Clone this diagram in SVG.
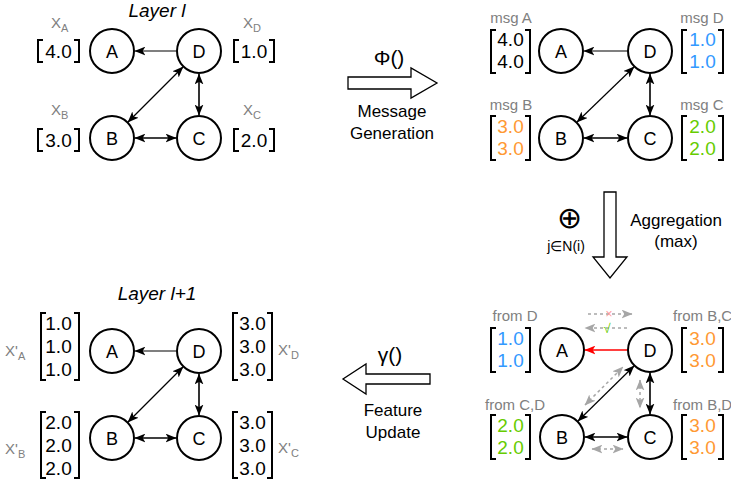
<svg xmlns="http://www.w3.org/2000/svg" width="731" height="487" viewBox="0 0 731 487">
<style>
text{font-family:"Liberation Sans",Arial,sans-serif}
.node circle{fill:#fff;stroke:#000;stroke-width:2}
.node text{font-size:18px;text-anchor:middle;fill:#000}
.num{font-size:19px;text-anchor:middle}
.lbl{font-size:15px;fill:#808080}
.xl{font-size:15px;fill:#808080}
.sub{font-size:11px;fill:#808080}
.br{fill:none;stroke:#000;stroke-width:2}
.e{stroke:#000;stroke-width:1.2;fill:none}
.e2{stroke:#000;stroke-width:1.6;fill:none}
.dash{stroke:#a6a6a6;stroke-width:1.5;stroke-dasharray:3 3;fill:none}
.blk{fill:#fff;stroke:#000;stroke-width:1.3}
.cap{font-size:17px;text-anchor:middle}
.op{font-size:21px;text-anchor:middle}
.title{font-size:19px;font-style:italic;text-anchor:middle}
.blue{fill:#3399ff}.orange{fill:#ff9933}.green{fill:#66cc00}
</style>
<defs>
<marker id="ah" markerUnits="userSpaceOnUse" viewBox="0 0 10 8" refX="9.5" refY="4" markerWidth="11" markerHeight="9" orient="auto-start-reverse"><path d="M0,0 L10,4 L0,8 L2.5,4 z" fill="#000"/></marker>
<marker id="ahr" markerUnits="userSpaceOnUse" viewBox="0 0 10 8" refX="9.5" refY="4" markerWidth="11" markerHeight="9" orient="auto-start-reverse"><path d="M0,0 L10,4 L0,8 L2.5,4 z" fill="#ff0000"/></marker>
<marker id="ahg" markerUnits="userSpaceOnUse" viewBox="0 0 10 8" refX="9.5" refY="4" markerWidth="11" markerHeight="9" orient="auto-start-reverse"><path d="M0,0 L10,4 L0,8 L2.5,4 z" fill="#a6a6a6"/></marker>
</defs>

<!-- Titles -->
<text class="title" x="157" y="17">Layer l</text>
<text class="title" x="157" y="300">Layer l+1</text>

<!-- Top-left graph -->
<g id="tl-nodes">
<g class="node" id="tl-A"><circle cx="112" cy="51" r="22"/><text x="112" y="58">A</text></g>
<g class="node" id="tl-D"><circle cx="199" cy="51" r="22"/><text x="199" y="58">D</text></g>
<g class="node" id="tl-B"><circle cx="112" cy="138" r="22"/><text x="112" y="145">B</text></g>
<g class="node" id="tl-C"><circle cx="199" cy="138" r="22"/><text x="199" y="145">C</text></g>
</g>
<g id="tl-edges">
<line class="e" x1="176" y1="51" x2="135" y2="51" marker-end="url(#ah)"/>
<line class="e" x1="128" y1="122" x2="183" y2="67" marker-start="url(#ah)" marker-end="url(#ah)"/>
<line class="e2" x1="199" y1="74" x2="199" y2="115" marker-start="url(#ah)" marker-end="url(#ah)"/>
<line class="e2" x1="135" y1="138" x2="176" y2="138" marker-start="url(#ah)" marker-end="url(#ah)"/>
</g>
<g id="tl-feat">
<text class="xl" x="51" y="28">X<tspan class="sub" dy="4">A</tspan></text>
<path class="br" d="M43,40 H38 V62 H43 M74,40 H79 V62 H74"/>
<text class="num" x="58.5" y="58">4.0</text>
<text class="xl" x="243" y="28">X<tspan class="sub" dy="4">D</tspan></text>
<path class="br" d="M239,40 H234 V62 H239 M269,40 H274 V62 H269"/>
<text class="num" x="254" y="58">1.0</text>
<text class="xl" x="51" y="115">X<tspan class="sub" dy="4">B</tspan></text>
<path class="br" d="M43,129 H38 V151 H43 M74,129 H79 V151 H74"/>
<text class="num" x="58.5" y="147">3.0</text>
<text class="xl" x="243" y="115">X<tspan class="sub" dy="4">C</tspan></text>
<path class="br" d="M239,129 H234 V151 H239 M269,129 H274 V151 H269"/>
<text class="num" x="254" y="147">2.0</text>
</g>

<!-- Top-right graph -->
<g id="tr-nodes">
<g class="node" id="tr-A"><circle cx="561" cy="51" r="22"/><text x="561" y="58">A</text></g>
<g class="node" id="tr-D"><circle cx="650" cy="51" r="22"/><text x="650" y="58">D</text></g>
<g class="node" id="tr-B"><circle cx="561" cy="138" r="22"/><text x="561" y="145">B</text></g>
<g class="node" id="tr-C"><circle cx="650" cy="138" r="22"/><text x="650" y="145">C</text></g>
</g>
<g id="tr-edges">
<line class="e" x1="627" y1="51" x2="584" y2="51" marker-end="url(#ah)"/>
<line class="e" x1="577" y1="122" x2="634" y2="67" marker-start="url(#ah)" marker-end="url(#ah)"/>
<line class="e2" x1="650" y1="74" x2="650" y2="115" marker-start="url(#ah)" marker-end="url(#ah)"/>
<line class="e2" x1="584" y1="138" x2="627" y2="138" marker-start="url(#ah)" marker-end="url(#ah)"/>
</g>
<g id="tr-msg">
<text class="lbl" x="511" y="23" text-anchor="middle">msg A</text>
<path class="br" d="M496,30 H491 V73 H496 M525,30 H530 V73 H525"/>
<text class="num" x="510.5" y="46">4.0</text>
<text class="num" x="510.5" y="68">4.0</text>
<text class="lbl" x="702" y="23" text-anchor="middle">msg D</text>
<path class="br" d="M687,30 H682 V73 H687 M718,30 H723 V73 H718"/>
<text class="num blue" x="702.5" y="46">1.0</text>
<text class="num blue" x="702.5" y="68">1.0</text>
<text class="lbl" x="511" y="110" text-anchor="middle">msg B</text>
<path class="br" d="M496,116 H491 V160 H496 M525,116 H530 V160 H525"/>
<text class="num orange" x="510.5" y="133">3.0</text>
<text class="num orange" x="510.5" y="155">3.0</text>
<text class="lbl" x="702" y="110" text-anchor="middle">msg C</text>
<path class="br" d="M687,116 H682 V160 H687 M718,116 H723 V160 H718"/>
<text class="num green" x="702.5" y="133">2.0</text>
<text class="num green" x="702.5" y="155">2.0</text>
</g>

<!-- Bottom-right graph -->
<g id="br-nodes">
<g class="node" id="br-A"><circle cx="562" cy="350" r="22"/><text x="562" y="357">A</text></g>
<g class="node" id="br-D"><circle cx="650" cy="350" r="22"/><text x="650" y="357">D</text></g>
<g class="node" id="br-B"><circle cx="562" cy="437" r="22"/><text x="562" y="444">B</text></g>
<g class="node" id="br-C"><circle cx="650" cy="437" r="22"/><text x="650" y="444">C</text></g>
</g>
<g id="br-edges">
<line x1="627" y1="350" x2="585" y2="350" stroke="#ff0000" stroke-width="1.4" marker-end="url(#ahr)"/>
<line class="e" x1="578" y1="421" x2="634" y2="366" marker-start="url(#ah)" marker-end="url(#ah)"/>
<line class="e2" x1="650" y1="373" x2="650" y2="414" marker-start="url(#ah)" marker-end="url(#ah)"/>
<line class="e2" x1="585" y1="437" x2="627" y2="437" marker-start="url(#ah)" marker-end="url(#ah)"/>
<line class="dash" x1="588" y1="314" x2="632" y2="314" marker-end="url(#ahg)"/>
<line class="dash" x1="627" y1="328" x2="585" y2="328" marker-end="url(#ahg)"/>
<line class="dash" x1="585" y1="405" x2="623" y2="367" marker-start="url(#ahg)" marker-end="url(#ahg)"/>
<line class="dash" x1="640" y1="380" x2="640" y2="408" marker-start="url(#ahg)" marker-end="url(#ahg)"/>
<line class="dash" x1="592" y1="449" x2="623" y2="449" marker-start="url(#ahg)" marker-end="url(#ahg)"/>
<text x="609" y="318" font-size="12" fill="#ff9999" text-anchor="middle">×</text>
<text x="607" y="333" font-size="13" fill="#66cc00" text-anchor="middle">√</text>
</g>
<g id="br-agg">
<text class="lbl" x="515" y="321" text-anchor="middle">from D</text>
<path class="br" d="M496,328 H491 V372 H496 M525,328 H530 V372 H525"/>
<text class="num blue" x="510.5" y="345">1.0</text>
<text class="num blue" x="510.5" y="367">1.0</text>
<text class="lbl" x="673" y="321">from B,C</text>
<path class="br" d="M687,328 H682 V372 H687 M718,328 H723 V372 H718"/>
<text class="num orange" x="702.5" y="345">3.0</text>
<text class="num orange" x="702.5" y="367">3.0</text>
<text class="lbl" x="515" y="410" text-anchor="middle">from C,D</text>
<path class="br" d="M496,415 H491 V459 H496 M525,415 H530 V459 H525"/>
<text class="num green" x="510.5" y="432">2.0</text>
<text class="num green" x="510.5" y="454">2.0</text>
<text class="lbl" x="673" y="410">from B,D</text>
<path class="br" d="M687,415 H682 V459 H687 M718,415 H723 V459 H718"/>
<text class="num orange" x="702.5" y="432">3.0</text>
<text class="num orange" x="702.5" y="454">3.0</text>
</g>

<!-- Bottom-left graph -->
<g id="bl-nodes">
<g class="node" id="bl-A"><circle cx="112" cy="351" r="22"/><text x="112" y="358">A</text></g>
<g class="node" id="bl-D"><circle cx="199" cy="351" r="22"/><text x="199" y="358">D</text></g>
<g class="node" id="bl-B"><circle cx="112" cy="438" r="22"/><text x="112" y="445">B</text></g>
<g class="node" id="bl-C"><circle cx="199" cy="438" r="22"/><text x="199" y="445">C</text></g>
</g>
<g id="bl-edges">
<line class="e" x1="176" y1="351" x2="135" y2="351" marker-end="url(#ah)"/>
<line class="e" x1="128" y1="422" x2="183" y2="367" marker-start="url(#ah)" marker-end="url(#ah)"/>
<line class="e2" x1="199" y1="374" x2="199" y2="415" marker-start="url(#ah)" marker-end="url(#ah)"/>
<line class="e2" x1="135" y1="438" x2="176" y2="438" marker-start="url(#ah)" marker-end="url(#ah)"/>
</g>
<g id="bl-feat">
<text class="xl" x="5" y="356">X'<tspan class="sub" dy="4">A</tspan></text>
<path class="br" d="M46,313 H41 V380 H46 M74,313 H79 V380 H74"/>
<text class="num" x="58.5" y="330">1.0</text>
<text class="num" x="58.5" y="353">1.0</text>
<text class="num" x="58.5" y="376">1.0</text>
<text class="xl" x="278" y="355">X'<tspan class="sub" dy="4">D</tspan></text>
<path class="br" d="M238,313 H233 V380 H238 M267,313 H272 V380 H267"/>
<text class="num" x="252.5" y="330">3.0</text>
<text class="num" x="252.5" y="353">3.0</text>
<text class="num" x="252.5" y="376">3.0</text>
<text class="xl" x="5" y="454">X'<tspan class="sub" dy="4">B</tspan></text>
<path class="br" d="M46,412 H41 V478 H46 M74,412 H79 V478 H74"/>
<text class="num" x="58.5" y="429">2.0</text>
<text class="num" x="58.5" y="452">2.0</text>
<text class="num" x="58.5" y="475">2.0</text>
<text class="xl" x="278" y="453">X'<tspan class="sub" dy="4">C</tspan></text>
<path class="br" d="M238,412 H233 V478 H238 M267,412 H272 V478 H267"/>
<text class="num" x="252.5" y="429">3.0</text>
<text class="num" x="252.5" y="452">3.0</text>
<text class="num" x="252.5" y="475">3.0</text>
</g>

<!-- Operations -->
<g id="op-phi">
<text class="op" x="389" y="65">Φ()</text>
<polygon class="blk" points="348,77 411,77 411,68 437,83 411,98 411,89 348,89"/>
<text class="cap" x="392" y="117">Message</text>
<text class="cap" x="392" y="139">Generation</text>
</g>
<g id="op-agg">
<polygon class="blk" points="604,192 616,192 616,257 627,257 610,278 593,257 604,257"/>
<text x="569" y="228" font-size="30" text-anchor="middle" font-family="'Noto Sans CJK SC', 'DejaVu Sans', sans-serif">⊕</text>
<text x="566" y="251" font-size="14" text-anchor="middle">j∈N(i)</text>
<text class="cap" x="676" y="226">Aggregation</text>
<text class="cap" x="676" y="247">(max)</text>
</g>
<g id="op-gamma">
<text class="op" x="390" y="362">γ()</text>
<polygon class="blk" points="430,374 366,374 366,364 343,379 366,394 366,384 430,384"/>
<text class="cap" x="393" y="416">Feature</text>
<text class="cap" x="393" y="438">Update</text>
</g>
</svg>
